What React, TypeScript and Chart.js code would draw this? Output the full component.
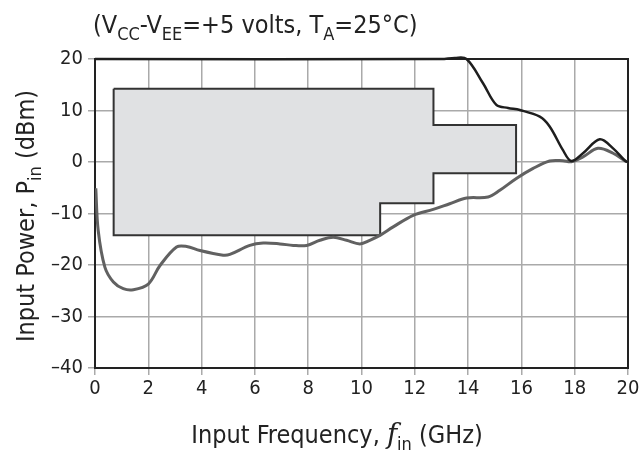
import React, { useEffect, useRef } from "react";
import { Chart, registerables } from "chart.js";
Chart.register(...registerables);

const xTicks = [0, 2, 4, 6, 8, 10, 12, 14, 16, 18, 20];
const yTicks = [-40, -30, -20, -10, 0, 10, 20];

const freqMin = [0.03, 0.12, 0.37, 0.69, 1.06, 1.44, 2.0, 2.44, 3.06, 3.44, 3.94, 4.81, 5.06, 5.81, 6.31, 6.94, 7.44, 7.94, 8.44, 8.94, 9.44, 9.94, 10.31, 10.69, 11.19, 11.94, 12.69, 13.31, 13.94, 14.75, 15.19, 15.81, 16.44, 17.06, 17.56, 17.87, 18.31, 18.87, 19.44, 19.9, 20];
const pinMin = [-5.1, -13.3, -20.4, -23.3, -24.6, -24.8, -23.7, -20.1, -16.5, -16.4, -17.2, -18.1, -17.95, -16.2, -15.75, -15.9, -16.2, -16.2, -15.2, -14.6, -15.2, -15.9, -15.2, -14.25, -12.6, -10.35, -9.2, -8.1, -7.0, -6.8, -5.5, -3.2, -1.25, 0.2, 0.25, 0.05, 1.0, 2.65, 1.7, 0.2, 0];

const freqMax = [0, 13.0, 13.5, 13.94, 14.56, 15.06, 15.5, 15.94, 16.69, 17.06, 17.56, 17.87, 18.31, 18.94, 19.44, 19.9, 20];
const pinMax = [20, 20, 20.2, 20, 15.3, 11.1, 10.5, 10.1, 8.8, 6.9, 2.3, 0.2, 1.7, 4.4, 2.65, 0.2, 0];

const boxFreq = [0.7, 12.7, 12.7, 15.8, 15.8, 12.7, 12.7, 10.7, 10.7, 0.7, 0.7];
const boxPin = [14.2, 14.2, 7.2, 7.2, -2.2, -2.2, -8, -8, -14.2, -14.2, 14.2];

const FONT = "'Liberation Sans Narrow', 'DejaVu Sans Condensed', 'Liberation Sans', sans-serif";
const TEXT = "#222";

type Seg = { t: string; sub?: boolean; italic?: boolean };

function drawRuns(ctx: CanvasRenderingContext2D, segs: Seg[], cx: number, cy: number, size: number, rot: number, align: "center" | "left") {
  const fontFor = (s: Seg) => {
    const sz = s.sub ? size * 0.72 : size;
    if (s.italic) return `italic ${sz * 1.1}px 'DejaVu Serif', 'Liberation Serif', serif`;
    return `${sz}px ${FONT}`;
  };
  let total = 0;
  for (const s of segs) {
    ctx.font = fontFor(s);
    total += ctx.measureText(s.t).width;
  }
  ctx.save();
  ctx.translate(cx, cy);
  ctx.rotate(rot);
  ctx.fillStyle = TEXT;
  ctx.textBaseline = "alphabetic";
  ctx.textAlign = "left";
  let x = align === "center" ? -total / 2 : 0;
  for (const s of segs) {
    ctx.font = fontFor(s);
    ctx.fillText(s.t, x, s.sub ? size * 0.28 : 0);
    x += ctx.measureText(s.t).width;
  }
  ctx.restore();
}

const framePlugin = {
  id: "frame",
  beforeDatasetsDraw(chart: any) {
    const ctx = chart.ctx as CanvasRenderingContext2D;
    const a = chart.chartArea;
    ctx.save();
    ctx.strokeStyle = "#222";
    ctx.lineWidth = 2;
    ctx.strokeRect(a.left, a.top, a.right - a.left, a.bottom - a.top);
    ctx.restore();
  },
  afterDraw(chart: any) {
    const ctx = chart.ctx as CanvasRenderingContext2D;
    drawRuns(ctx, [
      { t: "(V" }, { t: "CC", sub: true }, { t: "-V" }, { t: "EE", sub: true },
      { t: "=+5 volts, T" }, { t: "A", sub: true }, { t: "=25°C)" },
    ], 93, 33, 25, 0, "left");
    drawRuns(ctx, [
      { t: "Input Frequency, " }, { t: "f", italic: true }, { t: "in", sub: true }, { t: " (GHz)" },
    ], 337, 443, 25, 0, "center");
    drawRuns(ctx, [
      { t: "Input Power, P" }, { t: "in", sub: true }, { t: " (dBm)" },
    ], 34, 216, 25, -Math.PI / 2, "center");
  },
};

export default function App() {
  const ref = useRef<HTMLCanvasElement>(null);
  useEffect(() => {
    if (!ref.current) return;
    const chart = new Chart(ref.current, {
      type: "scatter",
      data: {
        datasets: [
          {
            label: "max",
            data: freqMax.map((f, i) => ({ x: f, y: pinMax[i] })),
            showLine: true,
            borderColor: "#1e1e1e",
            borderWidth: 2.5,
            pointRadius: 0,
            tension: 0.35,
            fill: false,
            clip: 4 as any,
            order: 1,
          },
          {
            label: "min",
            data: freqMin.map((f, i) => ({ x: f, y: pinMin[i] })),
            showLine: true,
            borderColor: "#616161",
            borderWidth: 3,
            pointRadius: 0,
            tension: 0.35,
            fill: false,
            order: 2,
          },
          {
            label: "box",
            data: boxFreq.map((f, i) => ({ x: f, y: boxPin[i] })),
            showLine: true,
            borderColor: "#333",
            borderWidth: 2,
            backgroundColor: "#e0e1e3",
            pointRadius: 0,
            tension: 0,
            fill: "shape" as any,
            order: 3,
          },
        ],
      },
      options: {
        animation: false,
        responsive: true,
        maintainAspectRatio: false,
        layout: { padding: { top: 59, right: 14, left: 0, bottom: 0 } },
        plugins: { legend: { display: false }, tooltip: { enabled: false }, title: { display: false } },
        scales: {
          x: {
            type: "linear",
            min: 0,
            max: 20,
            afterFit: (s: any) => { s.height = 83; },
            afterBuildTicks: (s: any) => { s.ticks = xTicks.map((v) => ({ value: v })); },
            ticks: { font: { family: FONT, size: 20 }, color: TEXT, padding: 2, maxRotation: 0 },
            grid: { color: "#aaa", lineWidth: 1.5, tickLength: 7, tickColor: "#aaa" },
            border: { display: true, color: "#222", width: 2 },
          },
          y: {
            type: "linear",
            min: -40,
            max: 20,
            afterFit: (s: any) => { s.width = 95; },
            afterBuildTicks: (s: any) => { s.ticks = yTicks.map((v) => ({ value: v })); },
            ticks: {
              font: { family: FONT, size: 20 },
              color: TEXT,
              padding: 5,
              callback: (v: any) => String(v).replace("-", "\u2013"),
            },
            grid: { color: "#aaa", lineWidth: 1.5, tickLength: 7, tickColor: "#aaa" },
            border: { display: true, color: "#222", width: 2 },
          },
        },
      },
      plugins: [framePlugin],
    });
    return () => chart.destroy();
  }, []);
  return (
    <div style={{ position: "fixed", left: 0, top: 0, width: 642, height: 451, background: "#fff" }}>
      <canvas ref={ref} />
    </div>
  );
}
